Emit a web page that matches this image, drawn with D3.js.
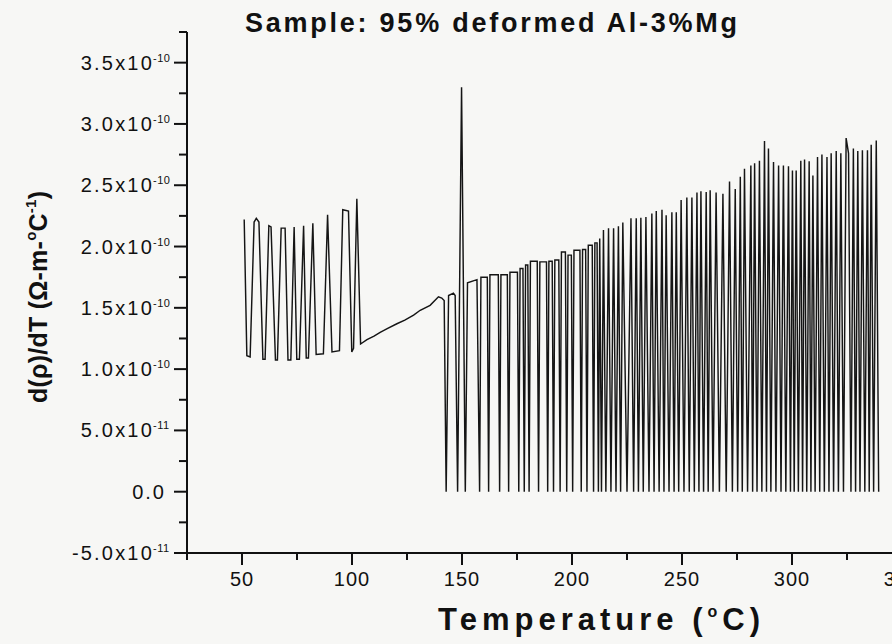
<!DOCTYPE html>
<html>
<head>
<meta charset="utf-8">
<script src="https://cdn.jsdelivr.net/npm/d3@7"></script>
<style>
  body { margin: 0; background: #f7f7f5; }
  svg { display: block; }
  text { font-family: Arial, "Liberation Sans", sans-serif; fill: #111; }
</style>
</head>
<body>
<div id="chart"></div>
<script>
// values are in units of 1e-10 ohm-m/°C
const UNIT = 1e-10;

// oscillating start + smooth ramp, [temperature, value]
const earlyPts = [
  [51.0, 2.22], [52.2, 1.11], [53.7, 1.10], [55.5, 2.20], [56.5, 2.23], [57.7, 2.20],
  [59.5, 1.08], [60.5, 1.08], [62.2, 2.17], [63.2, 2.16], [65.2, 1.075], [66.1, 1.075],
  [67.8, 2.15], [69.6, 2.15], [70.9, 1.075], [72.2, 1.075], [73.7, 2.16], [74.9, 1.08],
  [76.1, 1.08], [78.0, 2.17], [79.2, 1.09], [80.2, 1.09], [82.2, 2.19], [83.7, 1.12],
  [87.0, 1.125], [88.9, 2.26], [90.9, 1.14], [94.3, 1.15], [95.8, 2.30], [98.4, 2.29],
  [99.9, 1.14], [100.7, 1.17], [102.2, 2.39], [103.9, 1.205], [106.8, 1.24], [110.0, 1.27],
  [112.8, 1.30], [116.0, 1.33], [120.4, 1.37], [124.0, 1.40], [128.0, 1.44], [131.0, 1.48],
  [135.5, 1.52], [139.3, 1.59], [140.8, 1.58], [141.9, 1.56]
];

// upper points of the spiky part, [temperature, value]
const spikeTops = [
  [143.9, 1.60], [146.1, 1.62], [146.9, 1.60], [149.8, 3.30], [152.5, 1.705], [156.8, 1.73],
  [158.6, 1.75], [161.5, 1.75], [162.7, 1.77], [166.5, 1.77], [167.7, 1.77], [170.6, 1.77],
  [171.8, 1.79], [175.2, 1.79], [176.4, 1.82], [177.7, 1.82], [178.9, 1.85], [179.9, 1.85],
  [181.1, 1.88], [184.2, 1.88], [185.4, 1.875], [188.4, 1.875], [189.5, 1.88], [191.0, 1.88],
  [192.2, 1.89], [194.0, 1.89], [195.2, 1.955], [197.0, 1.955], [198.2, 1.93], [199.7, 1.93],
  [200.9, 1.97], [203.6, 1.97], [204.8, 1.975], [206.2, 1.975], [207.4, 2.01], [209.2, 2.01],
  [210.4, 2.03], [211.4, 2.03], [212.6, 2.065], [214.3, 2.134], [216.6, 2.15], [218.9, 2.15],
  [221.1, 2.166], [223.1, 2.196], [226.8, 2.23], [229.2, 2.23], [231.3, 2.235], [233.6, 2.24],
  [236.3, 2.27], [238.3, 2.29], [240.9, 2.30], [242.8, 2.255], [245.4, 2.28], [247.4, 2.28],
  [249.6, 2.38], [252.2, 2.40], [254.5, 2.40], [256.8, 2.44], [258.6, 2.45], [261.0, 2.445],
  [262.8, 2.46], [265.5, 2.44], [268.6, 2.43], [271.6, 2.53], [274.2, 2.47], [276.5, 2.57],
  [278.4, 2.635], [281.3, 2.66], [283.0, 2.68], [285.2, 2.70], [287.5, 2.86], [289.3, 2.80],
  [291.6, 2.69], [293.9, 2.66], [296.1, 2.66], [298.4, 2.655], [300.2, 2.62], [301.9, 2.62],
  [304.0, 2.70], [305.7, 2.71], [307.8, 2.695], [309.5, 2.58], [311.6, 2.73], [313.6, 2.75],
  [315.9, 2.73], [317.8, 2.76], [320.1, 2.78], [322.2, 2.76], [324.6, 2.885], [325.7, 2.76],
  [327.9, 2.80], [329.9, 2.78], [332.0, 2.785], [334.3, 2.785], [336.0, 2.83], [338.3, 2.865]
];

// temperatures where the signal drops to zero
const zeroT = [
  142.8, 148.0, 151.5, 158.0, 162.1, 167.1, 171.2, 175.8, 178.3, 180.5, 184.8, 188.95,
  191.6, 194.6, 197.6, 200.3, 204.2, 206.8, 209.8, 212.0, 213.4, 215.4, 217.7, 220.0,
  222.1, 225.0, 228.0, 230.2, 232.4, 235.0, 237.3, 239.6, 241.8, 244.1, 246.4, 248.5,
  250.9, 253.3, 255.6, 257.7, 259.8, 261.9, 264.1, 267.0, 270.1, 272.9, 275.3, 277.4,
  279.8, 282.1, 284.1, 286.3, 288.4, 290.4, 292.7, 295.0, 297.2, 299.3, 301.0, 302.9,
  304.8, 306.7, 308.6, 310.5, 312.6, 314.7, 316.8, 318.9, 321.1, 323.4, 326.8, 328.9,
  330.9, 333.1, 335.1, 337.1, 339.4
];

const xMajor = [50, 100, 150, 200, 250, 300, 350];
const xMinor = [25, 75, 125, 175, 225, 275, 325, 375];
const yMajor = [-5e-11, 0, 5e-11, 1e-10, 1.5e-10, 2e-10, 2.5e-10, 3e-10, 3.5e-10];
const yMinor = [-2.5e-11, 2.5e-11, 7.5e-11, 1.25e-10, 1.75e-10, 2.25e-10, 2.75e-10, 3.25e-10, 3.75e-10];

const W = 892, H = 644;
const svg = d3.select('#chart').append('svg')
  .attr('width', W).attr('height', H);

svg.append('rect').attr('width', W).attr('height', H).attr('fill', '#f7f7f5');

const x = d3.scaleLinear().domain([25, 375]).range([187, 957]);
const y = d3.scaleLinear().domain([-5e-11, 3.75e-10]).range([553, 32]);

// build the line from the read values
const pts = earlyPts.map(d => [d[0], d[1] * UNIT])
  .concat(spikeTops.map(d => [d[0], d[1] * UNIT]))
  .concat(zeroT.map(t => [t, 0]))
  .sort((a, b) => a[0] - b[0]);

const line = d3.line().x(d => x(d[0])).y(d => y(d[1]));

svg.append('path')
  .datum(pts)
  .attr('d', line)
  .attr('fill', 'none')
  .attr('stroke', '#151515')
  .attr('stroke-width', 1.45);

// axes, drawn by hand so the tick labels can carry superscripts
const axisCol = '#111';
const ax = svg.append('g');

ax.append('line')
  .attr('x1', x(25)).attr('x2', W + 5)
  .attr('y1', y(-5e-11)).attr('y2', y(-5e-11))
  .attr('stroke', axisCol).attr('stroke-width', 2);
ax.append('line')
  .attr('x1', x(25)).attr('x2', x(25))
  .attr('y1', y(3.75e-10)).attr('y2', y(-5e-11) + 1)
  .attr('stroke', axisCol).attr('stroke-width', 2);

ax.selectAll('.xmaj').data(xMajor).enter().append('line')
  .attr('x1', d => x(d)).attr('x2', d => x(d))
  .attr('y1', y(-5e-11)).attr('y2', y(-5e-11) + 12)
  .attr('stroke', axisCol).attr('stroke-width', 2);
ax.selectAll('.xmin').data(xMinor).enter().append('line')
  .attr('x1', d => x(d)).attr('x2', d => x(d))
  .attr('y1', y(-5e-11)).attr('y2', y(-5e-11) + 7)
  .attr('stroke', axisCol).attr('stroke-width', 2);
ax.selectAll('.ymaj').data(yMajor).enter().append('line')
  .attr('x1', x(25) - 13).attr('x2', x(25))
  .attr('y1', d => y(d)).attr('y2', d => y(d))
  .attr('stroke', axisCol).attr('stroke-width', 2);
ax.selectAll('.ymin').data(yMinor).enter().append('line')
  .attr('x1', x(25) - 8).attr('x2', x(25))
  .attr('y1', d => y(d)).attr('y2', d => y(d))
  .attr('stroke', axisCol).attr('stroke-width', 2);

ax.selectAll('.xlab').data(xMajor).enter().append('text')
  .attr('x', d => x(d)).attr('y', 586)
  .attr('text-anchor', 'middle')
  .style('font-size', '20px').style('letter-spacing', '1px')
  .text(d => d);

// y labels like 3.5x10^-10 : mantissa part, then the exponent as its own text
yMajor.forEach(v => {
  const ty = y(v);
  if (v === 0) {
    ax.append('text')
      .attr('x', 166).attr('y', ty + 7)
      .attr('text-anchor', 'end')
      .style('font-size', '20px').style('letter-spacing', '2px')
      .text('0.0');
    return;
  }
  const e = Math.floor(Math.log10(Math.abs(v)) + 1e-9);
  const m = (v / Math.pow(10, e)).toFixed(1);
  ax.append('text')
    .attr('x', 154).attr('y', ty + 7)
    .attr('text-anchor', 'end')
    .style('font-size', '20px').style('letter-spacing', '2.2px')
    .text(m + 'x10');
  ax.append('text')
    .attr('x', 153).attr('y', ty - 1)
    .style('font-size', '11px').style('letter-spacing', '0.5px')
    .text(e);
});

svg.append('text')
  .attr('x', 491).attr('y', 32)
  .attr('text-anchor', 'middle')
  .attr('textLength', 492).attr('lengthAdjust', 'spacing')
  .style('font-size', '27px').style('font-weight', 'bold')
  .text('Sample: 95% deformed Al-3%Mg');

const xt = svg.append('text')
  .attr('x', 438).attr('y', 630)
  .attr('textLength', 322).attr('lengthAdjust', 'spacing')
  .style('font-size', '31px').style('font-weight', 'bold');
xt.append('tspan').text('Temperature (');
xt.append('tspan').attr('dy', -13).style('font-size', '16px').text('o');
xt.append('tspan').attr('dy', 13).text('C)');

const yt = svg.append('text')
  .attr('transform', 'translate(47,297) rotate(-90)')
  .attr('text-anchor', 'middle')
  .attr('textLength', 212).attr('lengthAdjust', 'spacing')
  .style('font-size', '25px').style('font-weight', 'bold');
yt.append('tspan').text('d(ρ)/dT (Ω-m-');
yt.append('tspan').attr('dy', -11).style('font-size', '15px').text('o');
yt.append('tspan').attr('dy', 11).text('C');
yt.append('tspan').attr('dy', -11).style('font-size', '15px').text('-1');
yt.append('tspan').attr('dy', 11).text(')');
</script>
</body>
</html>
